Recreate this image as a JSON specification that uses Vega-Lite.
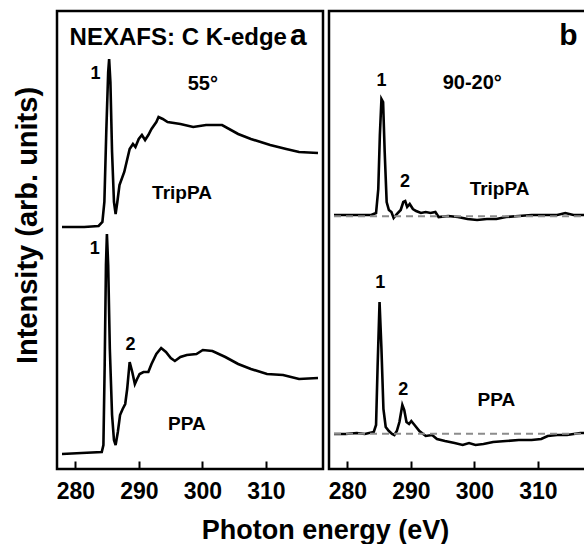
{
  "$schema": "https://vega.github.io/schema/vega-lite/v6.json",
  "padding": {"left": 11, "top": 9, "right": 0, "bottom": 0},
  "background": "white",
  "bounds": "flush",
  "spacing": 6,
  "config": {
    "view": {"stroke": "black", "strokeWidth": 2.5},
    "font": "Liberation Sans",
    "axis": {"grid": false}
  },
  "datasets": {
    "a": [
      {"series":"TripPA","E":277.9,"I":242},{"series":"TripPA","E":281.4,"I":242},{"series":"TripPA","E":283.66,"I":243},{"series":"TripPA","E":284.26,"I":247},{"series":"TripPA","E":284.57,"I":267},{"series":"TripPA","E":284.87,"I":337},{"series":"TripPA","E":285.17,"I":397},{"series":"TripPA","E":285.32,"I":410},{"series":"TripPA","E":285.52,"I":387},{"series":"TripPA","E":285.78,"I":317},{"series":"TripPA","E":286.08,"I":267},{"series":"TripPA","E":286.34,"I":255},{"series":"TripPA","E":286.61,"I":267},{"series":"TripPA","E":286.95,"I":284},{"series":"TripPA","E":287.7,"I":297},{"series":"TripPA","E":288.55,"I":320},{"series":"TripPA","E":289.07,"I":325},{"series":"TripPA","E":289.46,"I":322},{"series":"TripPA","E":289.98,"I":330},{"series":"TripPA","E":290.48,"I":334},{"series":"TripPA","E":290.98,"I":329},{"series":"TripPA","E":291.49,"I":334},{"series":"TripPA","E":291.99,"I":340},{"series":"TripPA","E":292.75,"I":347},{"series":"TripPA","E":293.1,"I":352},{"series":"TripPA","E":293.76,"I":350},{"series":"TripPA","E":294.52,"I":347},{"series":"TripPA","E":296.54,"I":345},{"series":"TripPA","E":298.55,"I":342},{"series":"TripPA","E":300.58,"I":344},{"series":"TripPA","E":303.1,"I":344},{"series":"TripPA","E":305.63,"I":335},{"series":"TripPA","E":307.64,"I":330},{"series":"TripPA","E":310.67,"I":324},{"series":"TripPA","E":313.2,"I":320},{"series":"TripPA","E":315.22,"I":317},{"series":"TripPA","E":318.2,"I":316},
      {"series":"PPA","E":277.9,"I":15},{"series":"PPA","E":281,"I":16},{"series":"PPA","E":284.16,"I":17},{"series":"PPA","E":284.42,"I":24},{"series":"PPA","E":284.62,"I":104},{"series":"PPA","E":284.82,"I":204},{"series":"PPA","E":284.97,"I":235},{"series":"PPA","E":285.17,"I":204},{"series":"PPA","E":285.43,"I":120},{"series":"PPA","E":285.78,"I":54},{"series":"PPA","E":286.08,"I":29},{"series":"PPA","E":286.34,"I":24},{"series":"PPA","E":286.69,"I":37},{"series":"PPA","E":287.04,"I":54},{"series":"PPA","E":287.45,"I":60},{"series":"PPA","E":287.85,"I":65},{"series":"PPA","E":288.16,"I":80},{"series":"PPA","E":288.55,"I":107},{"series":"PPA","E":288.96,"I":97},{"series":"PPA","E":289.37,"I":85},{"series":"PPA","E":289.72,"I":90},{"series":"PPA","E":290.12,"I":95},{"series":"PPA","E":290.73,"I":97},{"series":"PPA","E":291.49,"I":97},{"series":"PPA","E":291.99,"I":105},{"series":"PPA","E":292.75,"I":115},{"series":"PPA","E":293.51,"I":121},{"series":"PPA","E":294.26,"I":117},{"series":"PPA","E":295.02,"I":111},{"series":"PPA","E":295.67,"I":108},{"series":"PPA","E":296.54,"I":112},{"series":"PPA","E":297.55,"I":114},{"series":"PPA","E":299.07,"I":115},{"series":"PPA","E":300.07,"I":119},{"series":"PPA","E":301.58,"I":118},{"series":"PPA","E":303.61,"I":112},{"series":"PPA","E":305.63,"I":105},{"series":"PPA","E":307.64,"I":100},{"series":"PPA","E":310.17,"I":95},{"series":"PPA","E":312.7,"I":94},{"series":"PPA","E":315.22,"I":90},{"series":"PPA","E":318.2,"I":91}
    ],
    "b": [
      {"series":"TripPA","E":277.9,"I":254},{"series":"TripPA","E":279.72,"I":254},{"series":"TripPA","E":281.74,"I":254},{"series":"TripPA","E":283.76,"I":254},{"series":"TripPA","E":284.52,"I":256},{"series":"TripPA","E":284.87,"I":280},{"series":"TripPA","E":285.12,"I":334},{"series":"TripPA","E":285.37,"I":370},{"series":"TripPA","E":285.63,"I":367},{"series":"TripPA","E":285.88,"I":317},{"series":"TripPA","E":286.19,"I":267},{"series":"TripPA","E":286.54,"I":259},{"series":"TripPA","E":286.94,"I":257},{"series":"TripPA","E":287.29,"I":251},{"series":"TripPA","E":287.79,"I":255},{"series":"TripPA","E":288.4,"I":259},{"series":"TripPA","E":288.81,"I":267},{"series":"TripPA","E":289.11,"I":268},{"series":"TripPA","E":289.42,"I":262},{"series":"TripPA","E":289.82,"I":265},{"series":"TripPA","E":290.32,"I":260},{"series":"TripPA","E":290.83,"I":258},{"series":"TripPA","E":291.58,"I":256},{"series":"TripPA","E":292.34,"I":257},{"series":"TripPA","E":293.1,"I":256},{"series":"TripPA","E":293.86,"I":257},{"series":"TripPA","E":294.37,"I":252},{"series":"TripPA","E":295.88,"I":253},{"series":"TripPA","E":297.4,"I":252},{"series":"TripPA","E":298.92,"I":250},{"series":"TripPA","E":300.43,"I":249},{"series":"TripPA","E":301.95,"I":250},{"series":"TripPA","E":303.46,"I":250},{"series":"TripPA","E":304.98,"I":252},{"series":"TripPA","E":306.99,"I":253},{"series":"TripPA","E":309.01,"I":254},{"series":"TripPA","E":311.04,"I":254},{"series":"TripPA","E":313.05,"I":254},{"series":"TripPA","E":314.31,"I":256},{"series":"TripPA","E":315.59,"I":254},{"series":"TripPA","E":316.69,"I":254},{"series":"TripPA","E":318.2,"I":254},
      {"series":"PPA","E":277.9,"I":35},{"series":"PPA","E":279.72,"I":35},{"series":"PPA","E":281.49,"I":36},{"series":"PPA","E":282.75,"I":35},{"series":"PPA","E":284.16,"I":37},{"series":"PPA","E":284.52,"I":44},{"series":"PPA","E":284.77,"I":104},{"series":"PPA","E":285.07,"I":167},{"series":"PPA","E":285.37,"I":120},{"series":"PPA","E":285.68,"I":60},{"series":"PPA","E":286.04,"I":42},{"series":"PPA","E":286.54,"I":38},{"series":"PPA","E":287.04,"I":35},{"series":"PPA","E":287.4,"I":34},{"series":"PPA","E":287.79,"I":38},{"series":"PPA","E":288.2,"I":47},{"series":"PPA","E":288.66,"I":64},{"series":"PPA","E":288.96,"I":59},{"series":"PPA","E":289.31,"I":47},{"series":"PPA","E":289.72,"I":45},{"series":"PPA","E":290.07,"I":48},{"series":"PPA","E":290.58,"I":44},{"series":"PPA","E":291.34,"I":38},{"series":"PPA","E":292.34,"I":33},{"series":"PPA","E":293.35,"I":34},{"series":"PPA","E":294.11,"I":30},{"series":"PPA","E":295.37,"I":28},{"series":"PPA","E":296.89,"I":26},{"series":"PPA","E":298.16,"I":24},{"series":"PPA","E":299.16,"I":26},{"series":"PPA","E":300.17,"I":24},{"series":"PPA","E":301.43,"I":25},{"series":"PPA","E":302.95,"I":27},{"series":"PPA","E":304.98,"I":28},{"series":"PPA","E":306.99,"I":29},{"series":"PPA","E":309.01,"I":29},{"series":"PPA","E":310.52,"I":30},{"series":"PPA","E":311.54,"I":33},{"series":"PPA","E":313.05,"I":34},{"series":"PPA","E":314.57,"I":34},{"series":"PPA","E":316.69,"I":36},{"series":"PPA","E":318.2,"I":36}
    ],
    "base": [
      {"series":"TripPA","E":277.9,"I":252.7},{"series":"TripPA","E":318.2,"I":252.7},
      {"series":"PPA","E":277.9,"I":35.3},{"series":"PPA","E":318.2,"I":35.3}
    ],
    "tickpos": [
      {"E":280,"kind":"major"},{"E":282,"kind":"minor"},{"E":284,"kind":"minor"},{"E":286,"kind":"minor"},{"E":288,"kind":"minor"},
      {"E":290,"kind":"major"},{"E":292,"kind":"minor"},{"E":294,"kind":"minor"},{"E":296,"kind":"minor"},{"E":298,"kind":"minor"},
      {"E":300,"kind":"major"},{"E":302,"kind":"minor"},{"E":304,"kind":"minor"},{"E":306,"kind":"minor"},{"E":308,"kind":"minor"},
      {"E":310,"kind":"major"},{"E":312,"kind":"minor"},{"E":314,"kind":"minor"},{"E":316,"kind":"minor"}
    ],
    "labelsA": [
      {"text":"NEXAFS: C K-edge","E":279.1,"I":424,"role":"heading"},
      {"text":"a","E":315.1,"I":424,"role":"letter"},
      {"text":"1","E":283.16,"I":395,"role":"peak"},
      {"text":"55°","E":300.07,"I":385,"role":"angle"},
      {"text":"TripPA","E":296.79,"I":276,"role":"sample"},
      {"text":"1","E":283.05,"I":220,"role":"peak"},
      {"text":"2","E":288.7,"I":124,"role":"peak"},
      {"text":"PPA","E":297.55,"I":45,"role":"sample"}
    ],
    "labelsB": [
      {"text":"b","E":314.82,"I":424,"role":"letter"},
      {"text":"1","E":285.37,"I":388,"role":"peak"},
      {"text":"90-20°","E":299.67,"I":386,"role":"angle"},
      {"text":"2","E":289.07,"I":287,"role":"peak"},
      {"text":"TripPA","E":303.96,"I":280,"role":"sample"},
      {"text":"1","E":285.17,"I":186,"role":"peak"},
      {"text":"2","E":288.81,"I":79,"role":"peak"},
      {"text":"PPA","E":303.46,"I":69,"role":"sample"}
    ]
  },
  "hconcat": [
    {
      "width": 266,
      "height": 458,
      "encoding": {
        "x": {"field":"E","type":"quantitative","scale":{"domain":[277.9,318.2],"nice":false,"zero":false},"axis":null},
        "y": {"field":"I","type":"quantitative","scale":{"domain":[0,458],"nice":false,"zero":false},
          "axis": {"title":"Intensity (arb. units)","labels":false,"ticks":false,"domain":false,"grid":false,
            "titleFont":"Liberation Sans","titleFontWeight":"bold","titleFontSize":29,"titleColor":"black",
            "titleAngle":270,"titleX":-21,"titleY":214,"titleAlign":"center","titleBaseline":"alphabetic"}}
      },
      "layer": [
        {"data":{"name":"a"},"mark":{"type":"line","color":"black","strokeWidth":2.6},
          "encoding":{"detail":{"field":"series"},
            "x":{"field":"E","type":"quantitative",
              "axis": {"orient":"bottom","values":[280,290,300,310],"offset":-8,
                "labelFont":"Liberation Sans","labelFontWeight":"bold","labelFontSize":23,"labelColor":"black","labelPadding":11,
                "labelFlush":false,"labelOverlap":false,
                "ticks":true,"tickColor":"black","tickWidth":2,"tickSize":8,
                "domain":false,"grid":false,
                "title":"Photon energy (eV)","titleFont":"Liberation Sans","titleFontWeight":"bold","titleFontSize":27,"titleColor":"black",
                "titleX":268,"titleY":77,"titleBaseline":"alphabetic","titleAlign":"center"}}}},
        {"data":{"name":"tickpos"},"transform":[{"filter":"datum.kind === 'major'"}],
          "mark":{"type":"bar","color":"black","width":2},
          "encoding":{"x":{"field":"E","type":"quantitative","axis":null},"y":{"datum":0,"type":"quantitative"},"y2":{"datum":8}}},
        {"data":{"name":"tickpos"},"transform":[{"filter":"datum.kind === 'minor'"}],
          "mark":{"type":"bar","color":"black","width":2},
          "encoding":{"x":{"field":"E","type":"quantitative","axis":null},"y":{"datum":0,"type":"quantitative"},"y2":{"datum":4}}},
        {"data":{"name":"tickpos"},"transform":[{"filter":"datum.kind === 'major'"}],
          "mark":{"type":"bar","color":"black","width":2},
          "encoding":{"x":{"field":"E","type":"quantitative","axis":null},"y":{"datum":451,"type":"quantitative"},"y2":{"datum":458}}},
        {"data":{"name":"tickpos"},"transform":[{"filter":"datum.kind === 'minor'"}],
          "mark":{"type":"bar","color":"black","width":2},
          "encoding":{"x":{"field":"E","type":"quantitative","axis":null},"y":{"datum":454,"type":"quantitative"},"y2":{"datum":458}}},
        {"data":{"name":"labelsA"},"transform":[{"filter":"datum.role === 'heading'"}],
          "mark":{"type":"text","font":"Liberation Sans","fontWeight":"bold","fontSize":24,"align":"left","baseline":"alphabetic","color":"black"},
          "encoding":{"text":{"field":"text"}}},
        {"data":{"name":"labelsA"},"transform":[{"filter":"datum.role === 'letter'"}],
          "mark":{"type":"text","font":"Liberation Sans","fontWeight":"bold","fontSize":30,"align":"center","baseline":"alphabetic","color":"black"},
          "encoding":{"text":{"field":"text"}}},
        {"data":{"name":"labelsA"},"transform":[{"filter":"datum.role === 'peak'"}],
          "mark":{"type":"text","font":"Liberation Sans","fontWeight":"bold","fontSize":18,"align":"center","baseline":"middle","color":"black"},
          "encoding":{"text":{"field":"text"}}},
        {"data":{"name":"labelsA"},"transform":[{"filter":"datum.role === 'angle'"}],
          "mark":{"type":"text","font":"Liberation Sans","fontWeight":"bold","fontSize":20,"align":"center","baseline":"middle","color":"black"},
          "encoding":{"text":{"field":"text"}}},
        {"data":{"name":"labelsA"},"transform":[{"filter":"datum.role === 'sample'"}],
          "mark":{"type":"text","font":"Liberation Sans","fontWeight":"bold","fontSize":19,"align":"center","baseline":"middle","color":"black"},
          "encoding":{"text":{"field":"text"}}}
      ],
      "resolve": {"axis": {"x": "independent"}}
    },
    {
      "width": 266,
      "height": 458,
      "encoding": {
        "x": {"field":"E","type":"quantitative","scale":{"domain":[277.9,318.2],"nice":false,"zero":false},"axis":null},
        "y": {"field":"I","type":"quantitative","scale":{"domain":[0,458],"nice":false,"zero":false},"axis":null}
      },
      "layer": [
        {"data":{"name":"b"},"mark":{"type":"line","color":"black","strokeWidth":2.6},
          "encoding":{"detail":{"field":"series"},
            "x":{"field":"E","type":"quantitative",
              "axis": {"orient":"bottom","values":[280,290,300,310],"offset":-8,
                "labelFont":"Liberation Sans","labelFontWeight":"bold","labelFontSize":23,"labelColor":"black","labelPadding":11,
                "labelFlush":false,"labelOverlap":false,
                "ticks":true,"tickColor":"black","tickWidth":2,"tickSize":8,
                "domain":false,"grid":false,"title":null}}}},
        {"data":{"name":"tickpos"},"transform":[{"filter":"datum.kind === 'major'"}],
          "mark":{"type":"bar","color":"black","width":2},
          "encoding":{"x":{"field":"E","type":"quantitative","axis":null},"y":{"datum":0,"type":"quantitative"},"y2":{"datum":8}}},
        {"data":{"name":"tickpos"},"transform":[{"filter":"datum.kind === 'minor'"}],
          "mark":{"type":"bar","color":"black","width":2},
          "encoding":{"x":{"field":"E","type":"quantitative","axis":null},"y":{"datum":0,"type":"quantitative"},"y2":{"datum":4}}},
        {"data":{"name":"tickpos"},"transform":[{"filter":"datum.kind === 'major'"}],
          "mark":{"type":"bar","color":"black","width":2},
          "encoding":{"x":{"field":"E","type":"quantitative","axis":null},"y":{"datum":451,"type":"quantitative"},"y2":{"datum":458}}},
        {"data":{"name":"tickpos"},"transform":[{"filter":"datum.kind === 'minor'"}],
          "mark":{"type":"bar","color":"black","width":2},
          "encoding":{"x":{"field":"E","type":"quantitative","axis":null},"y":{"datum":454,"type":"quantitative"},"y2":{"datum":458}}},
        {"data":{"name":"base"},"mark":{"type":"line","color":"#8c8c8c","strokeWidth":2,"strokeDash":[7,5]},"encoding":{"detail":{"field":"series"}}},
        {"data":{"name":"labelsB"},"transform":[{"filter":"datum.role === 'letter'"}],
          "mark":{"type":"text","font":"Liberation Sans","fontWeight":"bold","fontSize":30,"align":"center","baseline":"alphabetic","color":"black"},
          "encoding":{"text":{"field":"text"}}},
        {"data":{"name":"labelsB"},"transform":[{"filter":"datum.role === 'peak'"}],
          "mark":{"type":"text","font":"Liberation Sans","fontWeight":"bold","fontSize":18,"align":"center","baseline":"middle","color":"black"},
          "encoding":{"text":{"field":"text"}}},
        {"data":{"name":"labelsB"},"transform":[{"filter":"datum.role === 'angle'"}],
          "mark":{"type":"text","font":"Liberation Sans","fontWeight":"bold","fontSize":20,"align":"center","baseline":"middle","color":"black"},
          "encoding":{"text":{"field":"text"}}},
        {"data":{"name":"labelsB"},"transform":[{"filter":"datum.role === 'sample'"}],
          "mark":{"type":"text","font":"Liberation Sans","fontWeight":"bold","fontSize":19,"align":"center","baseline":"middle","color":"black"},
          "encoding":{"text":{"field":"text"}}}
      ],
      "resolve": {"axis": {"x": "independent"}}
    }
  ]
}
